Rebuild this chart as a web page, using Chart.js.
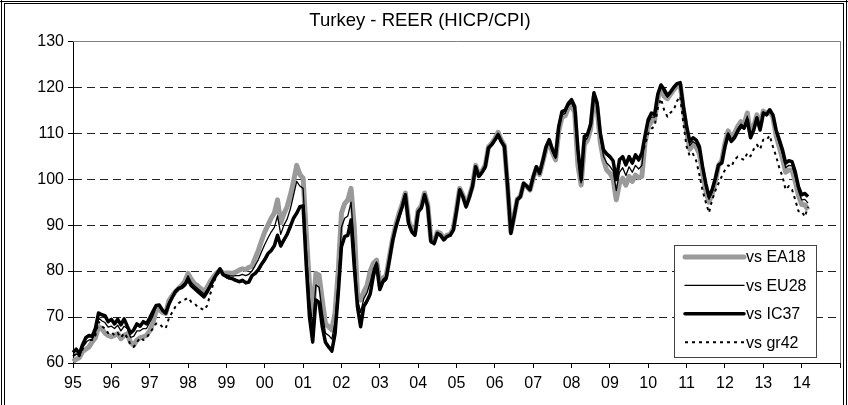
<!DOCTYPE html>
<html>
<head>
<meta charset="utf-8">
<title>Turkey - REER (HICP/CPI)</title>
<script src="https://cdn.jsdelivr.net/npm/chart.js@4.4.1/dist/chart.umd.min.js"></script>
<style>
  html, body { margin: 0; padding: 0; background: #fff; }
  canvas { display: block; }
</style>
</head>
<body>
<canvas id="reer" width="848" height="405"></canvas>
<script>
// monthly index values, Jan 1995 .. Mar 2014
var years = [1995, 1996, 1997, 1998, 1999, 2000, 2001, 2002, 2003, 2004,
             2005, 2006, 2007, 2008, 2009, 2010, 2011, 2012, 2013, 2014];

var seriesNames = ['vs EA18', 'vs EU28', 'vs IC37', 'vs gr42'];

var vsEA18 = [
  60.3, 60.8, 61.2, 62.5, 63.0, 63.5, 64.6, 65.5, 67.9, 67.5, 66.5, 66.0,
  65.7, 66.0, 66.4, 65.3, 66.0, 66.4, 64.5, 63.9, 65.0, 65.5, 65.7, 66.0,
  67.0, 68.6, 71.5, 71.6, 71.0, 70.8, 73.5, 74.6, 75.5, 76.2, 76.9, 77.8,
  79.5, 78.2, 77.3, 76.8, 76.2, 75.5, 76.5, 77.8, 78.8, 79.6, 80.2, 79.5,
  79.6, 79.6, 79.5, 79.8, 80.2, 80.5, 80.3, 80.8, 81.0, 82.8, 84.5, 86.6,
  88.5, 90.0, 91.5, 92.6, 95.5, 90.5, 92.5, 94.0, 96.5, 99.5, 103.0, 101.0,
  100.2, 88.2, 77.0, 70.8, 79.5, 79.1, 73.7, 68.5, 67.9, 67.2, 71.0, 80.0,
  92.6, 94.7, 95.5, 98.0, 89.7, 75.1, 73.7, 75.5, 76.8, 80.0, 81.7, 82.4,
  77.0, 78.5, 79.0, 83.0, 87.0, 90.0, 92.5, 94.5, 97.0, 91.0, 89.0, 88.5,
  93.3, 94.2, 97.0, 94.5, 86.8, 86.3, 88.5, 88.2, 87.0, 87.8, 88.0, 89.2,
  93.5, 98.0, 96.5, 94.3, 96.3, 98.6, 103.0, 100.8, 101.8, 103.0, 107.0, 107.8,
  108.8, 110.2, 108.5, 107.3, 98.2, 88.5, 92.0, 95.6, 96.3, 99.0, 98.4, 97.6,
  100.3, 102.5, 101.0, 103.7, 106.5, 108.2, 105.8, 104.2, 110.5, 113.5, 113.8, 115.5,
  116.0, 114.5, 103.0, 98.7, 107.5, 108.5, 111.0, 117.8, 115.5, 108.0, 104.2, 102.0,
  101.3, 100.0, 95.5, 99.1, 100.2, 98.7, 100.6, 99.5, 100.9, 100.3, 100.6, 108.0,
  111.5, 112.5, 113.0, 117.5, 120.0, 118.0, 117.5, 118.5, 119.5, 120.3, 120.5, 115.0,
  110.5, 106.5, 107.5, 107.0, 105.5, 101.5, 97.5, 95.0, 96.8, 99.5, 103.0, 104.0,
  107.8, 110.5, 109.0, 110.0, 111.5, 112.5, 112.0, 114.4, 110.0, 111.5, 114.0, 111.5,
  114.8, 114.2, 114.8, 113.5, 109.5, 107.0, 104.5, 101.5, 102.0, 102.0, 99.5, 96.5,
  94.5, 94.4, 93.3
];

var vsEU28 = [
  61.5, 62.0, 61.5, 63.3, 64.5, 65.0, 65.2, 66.5, 69.8, 69.2, 68.8, 67.8,
  68.0, 67.5, 68.2, 67.0, 68.0, 67.5, 65.6, 65.8, 67.0, 67.0, 67.5, 67.5,
  68.8, 70.2, 72.2, 72.3, 71.4, 70.8, 73.2, 74.5, 75.6, 76.3, 76.8, 77.5,
  79.0, 77.5, 76.8, 76.2, 75.6, 75.0, 76.0, 77.3, 78.5, 79.5, 80.4, 79.4,
  79.2, 79.0, 78.9, 79.0, 79.0, 79.3, 79.0, 79.3, 80.0, 81.2, 82.5, 84.2,
  85.8, 87.2, 88.5, 89.5, 92.0, 88.0, 90.0, 91.3, 93.5, 96.5, 99.5, 98.5,
  98.0, 85.0, 74.0, 68.0, 77.0, 76.5, 71.0, 66.5, 66.0, 65.2, 69.0, 78.0,
  89.5, 91.5, 92.0, 95.0, 85.5, 74.0, 71.0, 74.0, 75.3, 77.5, 80.5, 82.0,
  76.5, 78.2, 78.8, 82.8, 86.8, 89.8, 92.2, 94.3, 96.8, 90.7, 88.8, 88.2,
  93.1, 94.0, 96.8, 94.3, 86.6, 86.2, 88.4, 88.0, 86.9, 87.6, 87.9, 89.0,
  93.3, 97.8, 96.4, 94.2, 96.2, 98.5, 102.8, 100.7, 101.6, 102.8, 106.9, 107.6,
  108.6, 110.0, 108.3, 107.2, 98.3, 88.3, 91.9, 95.5, 96.2, 99.0, 98.4, 97.6,
  100.4, 102.6, 101.1, 103.8, 106.7, 108.4, 106.0, 104.5, 111.0, 114.0, 114.3, 116.0,
  116.6, 115.0, 104.5, 99.2, 108.2, 109.0, 111.5, 118.2, 116.0, 109.0, 105.0, 103.5,
  102.8, 101.8, 97.5, 101.5, 102.5, 100.8, 102.7, 101.5, 103.0, 102.2, 103.0, 108.8,
  112.3, 113.5, 113.5, 118.0, 120.3, 118.8, 117.8, 118.8, 119.8, 120.5, 120.8, 115.4,
  111.0, 107.3, 108.2, 107.7, 106.2, 102.0, 98.2, 95.6, 97.2, 99.8, 103.0, 103.7,
  107.5, 110.1, 108.6, 109.5, 111.0, 112.0, 111.5, 113.7, 109.5, 111.1, 113.6, 111.1,
  114.6, 114.1, 115.0, 113.8, 110.1, 107.8, 105.5, 102.5, 103.0, 102.9, 100.5, 97.5,
  95.5, 95.6, 94.8
];

var vsIC37 = [
  62.3, 63.0, 62.0, 64.0, 65.5, 66.0, 65.8, 67.5, 70.9, 70.5, 70.3, 69.0,
  69.5, 68.5, 69.5, 68.3, 69.6, 68.0, 66.5, 67.2, 68.5, 68.0, 69.0, 68.5,
  69.8, 71.2, 72.5, 72.6, 71.5, 70.8, 72.8, 74.2, 75.5, 76.2, 76.4, 77.0,
  78.2, 76.8, 76.2, 75.6, 75.0, 74.4, 75.5, 76.8, 78.2, 79.4, 80.5, 79.2,
  78.8, 78.5, 78.3, 78.0, 77.7, 78.0, 77.5, 77.6, 79.0, 79.5, 80.3, 81.5,
  82.5, 83.8, 84.5, 85.5, 87.8, 85.5, 86.8, 88.0, 89.7, 91.5, 92.6, 94.0,
  94.2, 81.0, 70.0, 64.6, 73.7, 73.2, 67.9, 64.5, 63.5, 62.6, 66.4, 75.1,
  85.3, 87.5, 87.8, 91.1, 81.0, 72.3, 67.9, 72.3, 73.5, 75.0, 79.0, 81.5,
  76.0, 77.7, 78.4, 82.4, 86.5, 89.5, 91.8, 94.0, 96.6, 90.4, 88.6, 87.8,
  92.9, 93.7, 96.6, 94.0, 86.4, 86.0, 88.2, 87.8, 86.8, 87.5, 87.8, 88.9,
  93.0, 97.7, 96.2, 94.0, 96.0, 98.4, 102.7, 100.6, 101.5, 102.7, 106.8, 107.5,
  108.5, 109.7, 108.2, 107.1, 98.4, 88.2, 91.8, 95.5, 96.2, 99.1, 98.5, 97.7,
  100.5, 102.7, 101.3, 104.0, 107.0, 108.6, 106.5, 104.9, 111.5, 114.7, 115.0, 116.5,
  117.3, 115.8, 106.4, 99.9, 109.3, 109.8, 112.0, 118.8, 116.6, 110.0, 106.4, 105.5,
  104.9, 104.0, 99.9, 104.2, 104.9, 103.1, 104.9, 103.5, 105.3, 104.2, 105.7, 109.5,
  113.0, 114.4, 114.0, 118.5, 120.5, 119.5, 118.2, 119.0, 120.0, 120.8, 121.0, 115.8,
  111.5, 108.2, 109.0, 108.5, 107.1, 102.7, 99.1, 96.2, 97.7, 100.2, 103.1, 103.5,
  107.1, 109.7, 108.2, 109.0, 110.4, 111.5, 111.1, 112.9, 109.0, 110.7, 113.3, 110.7,
  114.4, 114.0, 115.1, 114.0, 110.7, 108.6, 106.4, 103.5, 104.0, 103.8, 101.6, 98.4,
  96.6, 96.9, 96.2
];

var vsGR42 = [
  61.5, 62.0, 61.5, 63.0, 64.5, 65.0, 65.0, 66.0, 69.0, 68.0, 67.5, 66.5,
  66.8, 66.0, 66.5, 65.5, 66.5, 65.5, 64.0, 63.5, 64.5, 65.5, 65.0, 65.5,
  66.5, 67.5, 68.6, 68.6, 67.8, 67.5, 69.7, 71.0, 72.2, 73.0, 73.5, 73.8,
  74.2, 73.3, 73.0, 72.2, 71.9, 71.5, 72.5, 75.1, 77.5, 79.0, 80.0, 79.0,
  78.6, 78.3, 78.1, 77.8, 77.5, 77.8, 77.3, 77.4, 78.8, 79.3, 80.1, 81.3,
  82.3, 83.6, 84.3, 85.3, 87.6, 85.3, 86.6, 87.8, 89.5, 91.3, 92.4, 93.8,
  94.0, 80.8, 69.8, 64.4, 73.5, 73.0, 67.7, 64.3, 63.3, 62.4, 66.2, 74.9,
  85.1, 87.3, 87.6, 90.9, 80.8, 72.1, 67.7, 72.1, 73.3, 74.8, 78.8, 81.3,
  75.8, 77.5, 78.2, 82.2, 86.3, 89.3, 91.6, 93.8, 96.4, 90.2, 88.4, 87.6,
  92.7, 93.5, 96.4, 93.8, 86.2, 85.8, 88.0, 87.6, 86.6, 87.3, 87.6, 88.7,
  92.8, 97.5, 96.0, 93.8, 95.8, 98.2, 102.5, 100.4, 101.3, 102.5, 106.6, 107.3,
  108.3, 109.5, 108.0, 106.9, 98.2, 88.0, 91.6, 95.3, 96.0, 98.9, 98.3, 97.5,
  100.3, 102.5, 101.1, 103.8, 106.8, 108.4, 106.3, 104.7, 111.3, 114.5, 114.8, 116.3,
  117.1, 115.6, 106.2, 99.7, 109.1, 109.6, 111.8, 118.6, 116.4, 109.8, 106.2, 105.3,
  104.7, 103.8, 99.7, 104.0, 104.7, 102.9, 104.7, 103.3, 105.1, 104.0, 105.5, 107.5,
  110.0, 111.0, 111.5, 115.5, 117.5, 115.0, 113.6, 114.5, 115.1, 117.0, 118.0, 112.0,
  107.1, 105.0, 105.5, 104.0, 101.0, 97.5, 95.0, 92.7, 95.5, 97.5, 99.1, 100.6,
  102.0, 103.0, 102.7, 104.2, 104.9, 104.5, 104.2, 105.7, 105.0, 106.5, 107.5, 106.5,
  108.6, 108.5, 109.5, 107.1, 105.0, 102.5, 100.6, 97.7, 98.5, 97.7, 95.5, 93.0,
  93.0, 91.8, 94.0
];

// month labels running to Jan 2015 so the axis ends on the 2015 tick
var monthLabels = [];
years.forEach(function(y) {
  for (var m = 1; m <= 12; m++) {
    monthLabels.push(y + '-' + (m < 10 ? '0' + m : m));
  }
});
monthLabels.push('2015-01');

var FONT = '"Liberation Sans", Arial, sans-serif';

// white page with the double frame round the chart
var framePlugin = {
  id: 'frame',
  beforeDraw: function(chart) {
    var ctx = chart.ctx, w = chart.width, h = chart.height;
    ctx.save();
    ctx.fillStyle = '#fff';
    ctx.fillRect(0, 0, w, h);
    ctx.strokeStyle = '#000';
    ctx.lineWidth = 1;
    ctx.beginPath();
    ctx.moveTo(1.5, 0); ctx.lineTo(1.5, h);
    ctx.moveTo(4.5, 3); ctx.lineTo(4.5, h);
    ctx.moveTo(w - 1.5, 0); ctx.lineTo(w - 1.5, h);
    ctx.moveTo(w - 4.5, 3); ctx.lineTo(w - 4.5, h);
    ctx.moveTo(0, 1.5); ctx.lineTo(w, 1.5);
    ctx.moveTo(4, 3.5); ctx.lineTo(w - 4, 3.5);
    ctx.stroke();
    ctx.restore();
  },
  // grey border on the top and right of the plot area
  beforeDatasetsDraw: function(chart) {
    var ctx = chart.ctx, a = chart.chartArea;
    ctx.save();
    ctx.strokeStyle = '#808080';
    ctx.lineWidth = 1;
    ctx.beginPath();
    ctx.moveTo(a.left, Math.round(a.top) + 0.5);
    ctx.lineTo(Math.round(a.right) + 0.5, Math.round(a.top) + 0.5);
    ctx.lineTo(Math.round(a.right) + 0.5, a.bottom);
    ctx.stroke();
    ctx.restore();
  }
};

// boxed legend sitting inside the plot, bottom right
var legendBox = {
  id: 'legendBox',
  afterDatasetsDraw: function(chart) {
    var ctx = chart.ctx, a = chart.chartArea;
    var w = 142, h = 112;
    var x = Math.round(a.right - 24 - w), y = Math.round(a.bottom - 6 - h);
    ctx.save();
    ctx.fillStyle = '#fff';
    ctx.fillRect(x, y, w, h);
    ctx.strokeStyle = '#444';
    ctx.lineWidth = 1;
    ctx.strokeRect(x + 0.5, y + 0.5, w, h);
    ctx.font = '16px ' + FONT;
    ctx.textBaseline = 'middle';
    chart.data.datasets.forEach(function(ds, i) {
      var cy = y + 12 + i * 28.4;
      ctx.beginPath();
      ctx.lineWidth = ds.borderWidth;
      ctx.strokeStyle = ds.borderColor;
      ctx.setLineDash(ds.borderDash || []);
      ctx.lineCap = ds.borderDash ? 'butt' : 'round';
      ctx.moveTo(x + 11, cy);
      ctx.lineTo(x + 70, cy);
      ctx.stroke();
      ctx.setLineDash([]);
      ctx.fillStyle = '#000';
      ctx.fillText(ds.label, x + 72, cy + 1);
    });
    ctx.restore();
  }
};

var ctx = document.getElementById('reer').getContext('2d');

var reerChart = new Chart(ctx, {
  type: 'line',
  data: {
    labels: monthLabels,
    datasets: [{
      label: seriesNames[0],
      data: vsEA18,
      borderColor: '#9a9a9a',
      borderWidth: 5,
      order: 4
    }, {
      label: seriesNames[1],
      data: vsEU28,
      borderColor: '#000',
      borderWidth: 1.3,
      order: 3
    }, {
      label: seriesNames[2],
      data: vsIC37,
      borderColor: '#000',
      borderWidth: 3.5,
      order: 2
    }, {
      label: seriesNames[3],
      data: vsGR42,
      borderColor: '#000',
      borderWidth: 2,
      borderDash: [3, 4],
      order: 1
    }]
  },
  options: {
    responsive: false,
    animation: false,
    devicePixelRatio: 1,
    layout: { padding: { left: 0, right: 8, top: 0, bottom: 0 } },
    elements: {
      point: { radius: 0, hoverRadius: 0 },
      line: { tension: 0, borderJoinStyle: 'round', fill: false }
    },
    plugins: {
      legend: { display: false },
      tooltip: { enabled: false },
      title: {
        display: true,
        text: 'Turkey - REER (HICP/CPI)',
        color: '#000',
        font: { family: FONT, size: 18.5, weight: 'normal', lineHeight: 1.15 },
        padding: { top: 10, bottom: 10 }
      }
    },
    scales: {
      x: {
        type: 'category',
        offset: false,
        grid: {
          drawOnChartArea: false,
          drawTicks: true,
          tickLength: 5,
          tickColor: '#000'
        },
        border: { color: '#000', width: 1 },
        afterBuildTicks: function(axis) {
          axis.ticks = axis.ticks.filter(function(t) { return t.value % 12 === 0; });
        },
        afterFit: function(axis) { axis.height = 42; },
        ticks: {
          autoSkip: false,
          maxRotation: 0,
          padding: 6,
          color: '#000',
          font: { family: FONT, size: 16 },
          callback: function(value) {
            var l = this.getLabelForValue(value);
            return l === '2015-01' ? '' : l.slice(2, 4);
          }
        }
      },
      y: {
        min: 60,
        max: 130,
        afterFit: function(axis) { axis.width = 73; },
        grid: {
          color: function(c) {
            var v = c.tick ? c.tick.value : null;
            return (v === 60 || v === 130) ? 'rgba(0,0,0,0)' : '#222';
          },
          lineWidth: 1,
          tickLength: 5,
          tickColor: '#000'
        },
        border: { color: '#000', width: 1, dash: [8, 5] },
        ticks: {
          stepSize: 10,
          padding: 4,
          color: '#000',
          font: { family: FONT, size: 16 }
        }
      }
    }
  },
  plugins: [framePlugin, legendBox]
});
</script>
</body>
</html>
